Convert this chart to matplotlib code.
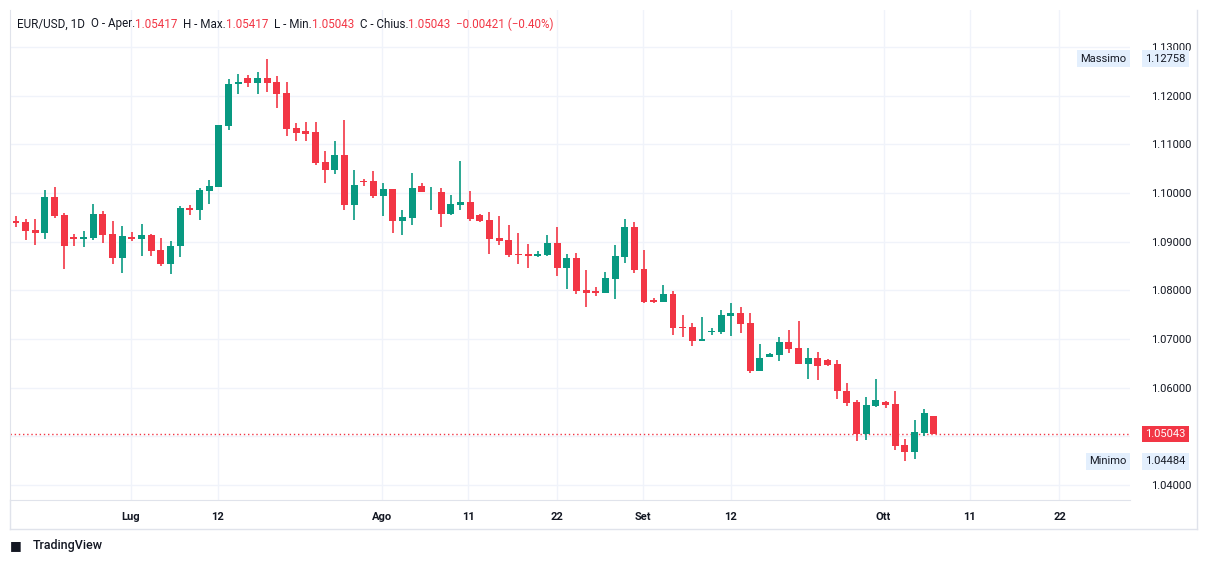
import numpy as np
import matplotlib.pyplot as plt
from matplotlib.patches import Rectangle

plt.rcParams["font.family"] = "Roboto"

# OHLC (one entry per daily bar)
opens = [1.0942, 1.0940, 1.0924, 1.0918, 1.0992, 1.0955, 1.0910, 1.0906, 1.0908, 1.0957,
         1.0916, 1.0867, 1.0910, 1.0906, 1.0914, 1.0883, 1.0855, 1.0890, 1.0969, 1.0966,
         1.1005, 1.1013, 1.1138, 1.1223, 1.1236, 1.1225, 1.1236, 1.1228, 1.1205, 1.1134,
         1.1128, 1.1125, 1.1064, 1.1048, 1.1078, 1.0976, 1.1025, 1.1025, 1.0994, 1.1008,
         1.0943, 1.0949, 1.1014, 1.1001, 1.1002, 1.0957, 1.0976, 1.0981, 1.0955, 1.0944,
         1.0908, 1.0903, 1.0875, 1.0875, 1.0871, 1.0873, 1.0897, 1.0846, 1.0866, 1.0801,
         1.0799, 1.0795, 1.0824, 1.0869, 1.0930, 1.0844, 1.0780, 1.0775, 1.0792, 1.0725,
         1.0725, 1.0696, 1.0715, 1.0715, 1.0748, 1.0753, 1.0733, 1.0635, 1.0662, 1.0668,
         1.0694, 1.0681, 1.0649, 1.0661, 1.0657, 1.0649, 1.0593, 1.0570, 1.0505, 1.0562,
         1.0570, 1.0566, 1.0482, 1.0468, 1.0507, 1.05417]
highs = [1.0953, 1.0947, 1.0947, 1.1006, 1.1013, 1.0959, 1.0916, 1.0922, 1.0977, 1.0963,
         1.0942, 1.0932, 1.0920, 1.0936, 1.0916, 1.0908, 1.0901, 1.0973, 1.0975, 1.1010,
         1.1027, 1.1140, 1.1234, 1.1245, 1.1242, 1.1249, 1.12758, 1.1240, 1.1228, 1.1144,
         1.1146, 1.1146, 1.1086, 1.1107, 1.1150, 1.1047, 1.1029, 1.1045, 1.1021, 1.1008,
         1.0965, 1.1041, 1.1021, 1.1012, 1.1010, 1.0996, 1.1066, 1.1004, 1.0957, 1.0961,
         1.0953, 1.0934, 1.0918, 1.0895, 1.0881, 1.0914, 1.0930, 1.0875, 1.0877, 1.0842,
         1.0807, 1.0838, 1.0893, 1.0947, 1.0940, 1.0883, 1.0784, 1.0811, 1.0799, 1.0749,
         1.0733, 1.0745, 1.0723, 1.0760, 1.0774, 1.0766, 1.0753, 1.0690, 1.0671, 1.0704,
         1.0718, 1.0737, 1.0681, 1.0673, 1.0659, 1.0657, 1.0610, 1.0575, 1.0581, 1.0618,
         1.0572, 1.0593, 1.0494, 1.0533, 1.0556, 1.05417]
lows = [1.0931, 1.0903, 1.0893, 1.0906, 1.0949, 1.0844, 1.0892, 1.0888, 1.0903, 1.0897,
        1.0855, 1.0836, 1.0901, 1.0870, 1.0871, 1.0849, 1.0834, 1.0869, 1.0955, 1.0945,
        1.0978, 1.1013, 1.1130, 1.1204, 1.1218, 1.1204, 1.1208, 1.1175, 1.1118, 1.1107,
        1.1107, 1.1058, 1.1021, 1.1038, 1.0966, 1.0945, 1.1015, 1.0990, 1.0953, 1.0918,
        1.0914, 1.0935, 1.1001, 1.0966, 1.0931, 1.0955, 1.0966, 1.0943, 1.0941, 1.0875,
        1.0894, 1.0869, 1.0855, 1.0846, 1.0869, 1.0871, 1.0830, 1.0803, 1.0793, 1.0766,
        1.0789, 1.0795, 1.0783, 1.0857, 1.0836, 1.0773, 1.0773, 1.0775, 1.0709, 1.0705,
        1.0686, 1.0696, 1.0709, 1.0711, 1.0707, 1.0713, 1.0631, 1.0635, 1.0662, 1.0655,
        1.0672, 1.0649, 1.0618, 1.0616, 1.0645, 1.0577, 1.0563, 1.0491, 1.0493, 1.0560,
        1.0558, 1.0472, 1.04484, 1.0453, 1.0501, 1.05043]
closes = [1.0939, 1.0922, 1.0918, 1.0992, 1.0953, 1.0892, 1.0906, 1.0910, 1.0957, 1.0914,
          1.0867, 1.0912, 1.0905, 1.0914, 1.0881, 1.0855, 1.0891, 1.0969, 1.0966, 1.1006,
          1.1014, 1.1140, 1.1224, 1.1228, 1.1225, 1.1236, 1.1227, 1.1204, 1.1132, 1.1124,
          1.1122, 1.1062, 1.1048, 1.1078, 1.0976, 1.1016, 1.1023, 1.0994, 1.1008, 1.0943,
          1.0951, 1.1010, 1.1001, 1.1002, 1.0957, 1.0977, 1.0981, 1.0947, 1.0943, 1.0906,
          1.0902, 1.0873, 1.0873, 1.0871, 1.0875, 1.0897, 1.0846, 1.0866, 1.0799, 1.0795,
          1.0795, 1.0825, 1.0871, 1.0930, 1.0842, 1.0775, 1.0775, 1.0792, 1.0723, 1.0723,
          1.0696, 1.0700, 1.0716, 1.0749, 1.0753, 1.0731, 1.0635, 1.0661, 1.0669, 1.0694,
          1.0680, 1.0649, 1.0661, 1.0645, 1.0647, 1.0592, 1.0569, 1.0505, 1.0564, 1.0575,
          1.0564, 1.0480, 1.0468, 1.0509, 1.0548, 1.05043]

tick_pos = [11.9, 20.9, 37.9, 46.8, 56.0, 64.9, 74.0, 89.8, 98.7, 108.0]
tick_labels = ["Lug", "12", "Ago", "11", "22", "Set", "12", "Ott", "11", "22"]
price_ticks = [1.04, 1.05, 1.06, 1.07, 1.08, 1.09, 1.10, 1.11, 1.12, 1.13]

GREEN = "#089981"
RED = "#F23645"
TXT = "#131722"
FS = 8

W, H = 1209, 564
fig = plt.figure(figsize=(W / 100, H / 100), dpi=100)
ax = fig.add_axes([10 / W, 1 - 500 / H, 1120 / W, 490 / H])

for i, (o, h, l, c) in enumerate(zip(opens, highs, lows, closes)):
    col = GREEN if c >= o else RED
    ax.vlines(i, l, h, color=col, lw=1.2, zorder=3)
    lo, hi = min(o, c), max(o, c)
    ax.add_patch(Rectangle((i - 0.36, lo), 0.72, max(hi - lo, 0.00006),
                           facecolor=col, edgecolor=col, lw=0, zorder=4))

last = closes[-1]

ax.set_xlim(-0.62, 115.3)
ax.set_ylim(1.0369, 1.1376)
ax.set_xticks(tick_pos)
ax.set_xticklabels(tick_labels, fontsize=FS, color=TXT, fontweight="bold")
ax.set_yticks(price_ticks)
ax.yaxis.tick_right()
# the 1.05 label sits under the last-price tag
ax.set_yticklabels(["" if abs(p - last) < 0.004 else "%.5f" % p for p in price_ticks],
                   fontsize=FS, color=TXT)
ax.tick_params(axis="x", length=0, pad=9)
ax.tick_params(axis="y", length=0, pad=15)
ax.grid(color="#f0f3fa", lw=1)
for s in ax.spines.values():
    s.set_color("#e0e3eb")
ax.spines["top"].set_visible(False)
ax.spines["right"].set_visible(False)

ax.axhline(last, color=RED, lw=1, ls=(0, (1, 2)), zorder=2)

def price_tag(y, text, bg, fg, label=None):
    ax.text(1.0135, y, text, transform=ax.get_yaxis_transform(), fontsize=FS,
            color=fg, va="center", ha="left",
            bbox=dict(boxstyle="square,pad=0.3", fc=bg, ec="none"), zorder=6)
    if label:
        ax.text(0.997, y, label, transform=ax.get_yaxis_transform(), fontsize=FS,
                color=TXT, va="center", ha="right",
                bbox=dict(boxstyle="square,pad=0.3", fc="#e3effd", ec="none"), zorder=6)

price_tag(max(highs), "%.5f" % max(highs), "#e3effd", TXT, "Massimo")
price_tag(min(lows), "%.5f" % min(lows), "#e3effd", TXT, "Minimo")
price_tag(last, "%.5f" % last, RED, "white")

# outer frame lines
fig.add_artist(plt.Line2D([10 / W, 1197 / W], [1 - 529 / H] * 2, color="#e0e3eb", lw=1))
fig.add_artist(plt.Line2D([1197 / W] * 2, [1 - 529 / H, 1 - 10 / H], color="#e0e3eb", lw=1))
fig.add_artist(plt.Line2D([10 / W] * 2, [1 - 529 / H, 1 - 500 / H], color="#e0e3eb", lw=1))

# header legend, pieces laid out one after another
parts = [("EUR/USD, 1D  ", TXT), ("O - Aper.", TXT), ("1.05417  ", RED),
         ("H - Max.", TXT), ("1.05417  ", RED), ("L - Min.", TXT),
         ("1.05043  ", RED), ("C - Chius.", TXT), ("1.05043  ", RED),
         ("\u22120.00421 (\u22120.40%)", RED)]
renderer = fig.canvas.get_renderer()
x = 17
for t, c in parts:
    txt = fig.text(x / W, 1 - 24 / H, t, fontsize=8.4, color=c, va="center", ha="left")
    x += txt.get_window_extent(renderer).width

fig.text(10 / W, 1 - 546 / H, "\u25A0", fontsize=9, color=TXT, va="center", ha="left",
         fontfamily="DejaVu Sans")
fig.text(33 / W, 1 - 546 / H, "TradingView", fontsize=9, color=TXT,
         va="center", ha="left", fontweight="medium")

fig.savefig("out.png", dpi=100)
